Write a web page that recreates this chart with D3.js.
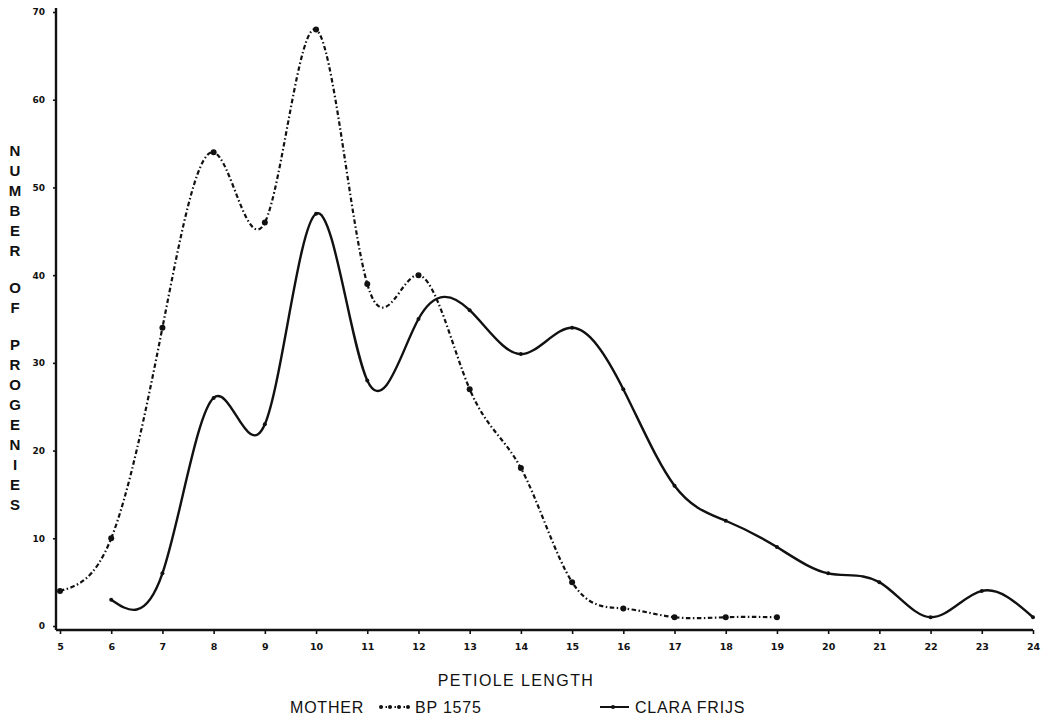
<!DOCTYPE html>
<html>
<head>
<meta charset="utf-8">
<script src="https://cdn.jsdelivr.net/npm/d3@7"></script>
<style>
  html, body { margin: 0; padding: 0; background: #fff; }
  svg { display: block; }
  text { fill: #111; }
</style>
</head>
<body>
<svg id="chart" width="1049" height="723"></svg>
<script>
// ---- data ----
const petioleBP = [5, 6, 7, 8, 9, 10, 11, 12, 13, 14, 15, 16, 17, 18, 19];
const countBP   = [4, 10, 34, 54, 46, 68, 39, 40, 27, 18, 5, 2, 1, 1, 1];

const petioleCF = [6, 7, 8, 9, 10, 11, 12, 13, 14, 15, 16, 17, 18, 19, 20, 21, 22, 23, 24];
const countCF   = [3, 6, 26, 23, 47, 28, 35, 36, 31, 34, 27, 16, 12, 9, 6, 5, 1, 4, 1];

const xTickValues = [5, 6, 7, 8, 9, 10, 11, 12, 13, 14, 15, 16, 17, 18, 19, 20, 21, 22, 23, 24];
const yTickValues = [0, 10, 20, 30, 40, 50, 60, 70];

const xTitle = "PETIOLE LENGTH";
const yTitleWords = ["NUMBER", "OF", "PROGENIES"];
const legendLead = "MOTHER";
const seriesNames = ["BP 1575", "CLARA FRIJS"];

// ---- layout ----
const svg = d3.select("#chart");
const x = d3.scaleLinear().domain([5, 24]).range([60, 1033]);
const y = d3.scaleLinear().domain([0, 70]).range([626, 12]);
const axisY = 630;
const axisX = 56;
const ink = "#111";

// axes
const gx = svg.append("g").attr("transform", `translate(0,${axisY})`)
  .call(d3.axisBottom(x).tickValues(xTickValues).tickSize(4).tickPadding(9).tickSizeOuter(0));
gx.select(".domain").attr("d", `M${axisX},0H${x(24)}`).attr("stroke", ink).attr("stroke-width", 2.4);
gx.selectAll(".tick line").attr("stroke", ink).attr("stroke-width", 1.6);
gx.selectAll(".tick text").attr("font-family", "DejaVu Sans, sans-serif").attr("font-weight", "bold")
  .attr("font-size", 9.5).attr("fill", ink);

const gy = svg.append("g").attr("transform", `translate(${axisX},0)`)
  .call(d3.axisLeft(y).tickValues(yTickValues).tickSize(3).tickPadding(8).tickSizeOuter(0));
gy.select(".domain").attr("d", `M0,${y(70) - 4}V${axisY}`).attr("stroke", ink).attr("stroke-width", 2.4);
gy.selectAll(".tick line").attr("stroke", ink).attr("stroke-width", 1.6);
gy.selectAll(".tick text").attr("font-family", "DejaVu Sans, sans-serif").attr("font-weight", "bold")
  .attr("font-size", 9).attr("fill", ink);

// y title: stacked letters
const yTitle = svg.append("text")
  .attr("font-family", "Liberation Sans, Arial, sans-serif")
  .attr("font-weight", "bold").attr("font-size", 15).attr("text-anchor", "middle");
let ly = 151;
yTitleWords.forEach((w, wi) => {
  if (wi > 0) ly += 17;
  w.split("").forEach(ch => {
    yTitle.append("tspan").attr("x", 15).attr("y", ly + 5).text(ch);
    ly += 20;
  });
});

// x title
svg.append("text").attr("x", 516).attr("y", 686)
  .attr("text-anchor", "middle")
  .attr("font-family", "Liberation Sans, Arial, sans-serif")
  .attr("letter-spacing", 1.4)
  .attr("font-size", 16).text(xTitle);

// lines
const line = d3.line().x(d => x(d[0])).y(d => y(d[1])).curve(d3.curveNatural);
const bpData = petioleBP.map((p, i) => [p, countBP[i]]);
const cfData = petioleCF.map((p, i) => [p, countCF[i]]);

svg.append("path").datum(bpData).attr("d", line)
  .attr("fill", "none").attr("stroke", ink).attr("stroke-width", 2.2)
  .attr("stroke-dasharray", "4.5,2.5,1.5,2.5");
svg.append("g").selectAll("circle").data(bpData).join("circle")
  .attr("cx", d => x(d[0])).attr("cy", d => y(d[1])).attr("r", 3).attr("fill", ink);

svg.append("path").datum(cfData).attr("d", line)
  .attr("fill", "none").attr("stroke", ink).attr("stroke-width", 2.4);
svg.append("g").selectAll("circle").data(cfData).join("circle")
  .attr("cx", d => x(d[0])).attr("cy", d => y(d[1])).attr("r", 2).attr("fill", ink);

// legend
const lg = svg.append("g").attr("font-family", "Liberation Sans, Arial, sans-serif")
  .attr("font-size", 16).attr("letter-spacing", 0.8);
lg.append("text").attr("x", 290).attr("y", 713).text(legendLead);
lg.append("line").attr("x1", 381).attr("x2", 409).attr("y1", 707).attr("y2", 707)
  .attr("stroke", ink).attr("stroke-width", 2).attr("stroke-dasharray", "1.5,3");
[381, 390, 399, 408].forEach(cx => lg.append("circle").attr("cx", cx).attr("cy", 707).attr("r", 2).attr("fill", ink));
lg.append("text").attr("x", 415).attr("y", 713).text(seriesNames[0]);
lg.append("line").attr("x1", 600).attr("x2", 629).attr("y1", 707).attr("y2", 707)
  .attr("stroke", ink).attr("stroke-width", 2);
lg.append("circle").attr("cx", 613).attr("cy", 707).attr("r", 2).attr("fill", ink);
lg.append("text").attr("x", 635).attr("y", 713).text(seriesNames[1]);
</script>
</body>
</html>
